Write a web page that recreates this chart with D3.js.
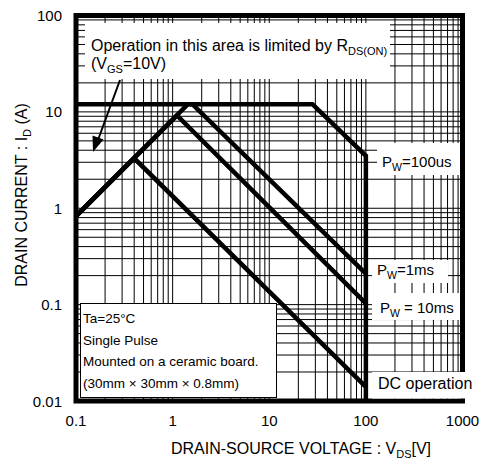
<!DOCTYPE html>
<html><head><meta charset="utf-8">
<script src="https://cdn.jsdelivr.net/npm/d3@7"></script>
<style>body{margin:0;background:#fff}</style>
</head><body><svg id="c" width="485" height="464"></svg>
<script>
const xTickValues=[0.1,1,10,100,1000];
const xTickLabels=["0.1","1","10","100","1000"];
const yTickValues=[0.01,0.1,1,10,100];
const yTickLabels=["0.01","0.1","1","10","100"];
const pw100usV=[0.1,28,100,100], pw100usI=[12,12,3.5,0.01];
const pw1msV=[0.1,1.44,1.6,100], pw1msI=[0.83,12,12,0.21];
const pw10msV=[0.1,1.11,100], pw10msI=[0.83,9.2,0.103];
const dcV=[0.1,0.4,100], dcI=[0.83,3.3,0.014];
const seriesList=[[pw100usV,pw100usI],[pw1msV,pw1msI],[pw10msV,pw10msI],[dcV,dcI]];

const F='"Liberation Sans", Arial, sans-serif';
const svg=d3.select("#c");
const L=76,R=462.5,T=15.5,B=401;
const x=d3.scaleLog().domain([0.1,1000]).range([L,R]);
const y=d3.scaleLog().domain([0.01,100]).range([B,T]);

svg.append("defs").append("clipPath").attr("id","clip").append("rect")
  .attr("x",L).attr("y",T).attr("width",R-L).attr("height",B-T);

// grid
const g=svg.append("g");
g.selectAll("line.vx").data(x.ticks()).join("line")
  .attr("x1",d=>x(d)).attr("x2",d=>x(d)).attr("y1",T).attr("y2",B)
  .attr("stroke","#000").attr("stroke-width",1);
g.selectAll("line.hy").data(y.ticks()).join("line")
  .attr("y1",d=>y(d)).attr("y2",d=>y(d)).attr("x1",L).attr("x2",R)
  .attr("stroke","#000").attr("stroke-width",1);

function richText(sel,parts,size,subSize){
  parts.forEach(p=>{
    if(p.sub){
      sel.append("tspan").attr("font-size",subSize).attr("dy",4).text(p.t);
    } else if(p.after){
      sel.append("tspan").attr("font-size",size).attr("dy",-4).text(p.t);
    } else sel.append("tspan").text(p.t);
  });
}

// annotation boxes
function box(x0,y0,w,h,stroke){
  svg.append("rect").attr("x",x0).attr("y",y0).attr("width",w).attr("height",h)
    .attr("fill","#fff").attr("stroke",stroke?"#000":"none").attr("stroke-width",1);
}
box(85,23,305,56);
let t=svg.append("text").attr("x",91).attr("y",51).attr("font-family",F).attr("font-size",16);
richText(t,[{t:"Operation in this area is limited by R"},{t:"DS(ON)",sub:true}],16,11);
t=svg.append("text").attr("x",91).attr("y",69).attr("font-family",F).attr("font-size",16);
richText(t,[{t:"(V"},{t:"GS",sub:true},{t:"=10V)",after:true}],16,11);

box(377,143,85,32);
t=svg.append("text").attr("x",382).attr("y",167).attr("font-family",F).attr("font-size",15);
richText(t,[{t:"P"},{t:"W",sub:true},{t:"=100us",after:true}],15,10.5);

box(372,260,76,23);
t=svg.append("text").attr("x",377).attr("y",275).attr("font-family",F).attr("font-size",15);
richText(t,[{t:"P"},{t:"W",sub:true},{t:"=1ms",after:true}],15,10.5);

box(372,293,90,27);
t=svg.append("text").attr("x",380).attr("y",313).attr("font-family",F).attr("font-size",15);
richText(t,[{t:"P"},{t:"W",sub:true},{t:" = 10ms",after:true}],15,10.5);

box(80.5,303.5,196,94,true);
const cond=["Ta=25°C","Single Pulse","Mounted on a ceramic board.","(30mm × 30mm × 0.8mm)"];
cond.forEach((s,i)=>svg.append("text").attr("x",83).attr("y",323+i*21.7)
  .attr("font-family",F).attr("font-size",13.5).text(s));

// curves
const line=d3.line().x(d=>x(d[0])).y(d=>y(d[1]));
svg.append("g").attr("clip-path","url(#clip)").selectAll("path").data(seriesList).join("path")
  .attr("d",s=>line(s[0].map((v,i)=>[v,s[1][i]])))
  .attr("fill","none").attr("stroke","#000").attr("stroke-width",4.5)
  .attr("stroke-linejoin","miter");

// arrow
svg.append("line").attr("x1",120).attr("y1",80).attr("x2",98).attr("y2",140)
  .attr("stroke","#000").attr("stroke-width",2);
svg.append("path").attr("d","M93,152 L92.5,135.5 L103.5,139.5 Z").attr("fill","#000");

// border
svg.append("rect").attr("x",L).attr("y",T).attr("width",R-L).attr("height",B-T)
  .attr("fill","none").attr("stroke","#000").attr("stroke-width",5);

box(372,372,96,26.5);
svg.append("text").attr("x",378).attr("y",389).attr("font-family",F).attr("font-size",16).text("DC operation");

// tick labels
svg.selectAll("text.xt").data(xTickValues).join("text").attr("class","xt")
  .attr("x",d=>x(d)).attr("y",426).attr("text-anchor","middle")
  .attr("font-family",F).attr("font-size",15).text((d,i)=>xTickLabels[i]);
svg.selectAll("text.yt").data(yTickValues).join("text").attr("class","yt")
  .attr("x",62).attr("y",d=>y(d)+5.5).attr("text-anchor","end")
  .attr("font-family",F).attr("font-size",15).text((d,i)=>yTickLabels[i]);

// axis titles
t=svg.append("text").attr("x",301).attr("y",454).attr("text-anchor","middle")
  .attr("font-family",F).attr("font-size",16);
richText(t,[{t:"DRAIN-SOURCE VOLTAGE : V"},{t:"DS",sub:true},{t:"[V]",after:true}],16,11);
t=svg.append("text").attr("transform","translate(27,195) rotate(-90)").attr("text-anchor","middle")
  .attr("font-family",F).attr("font-size",16);
richText(t,[{t:"DRAIN CURRENT : I"},{t:"D",sub:true},{t:" (A)",after:true}],16,11);
</script></body></html>
